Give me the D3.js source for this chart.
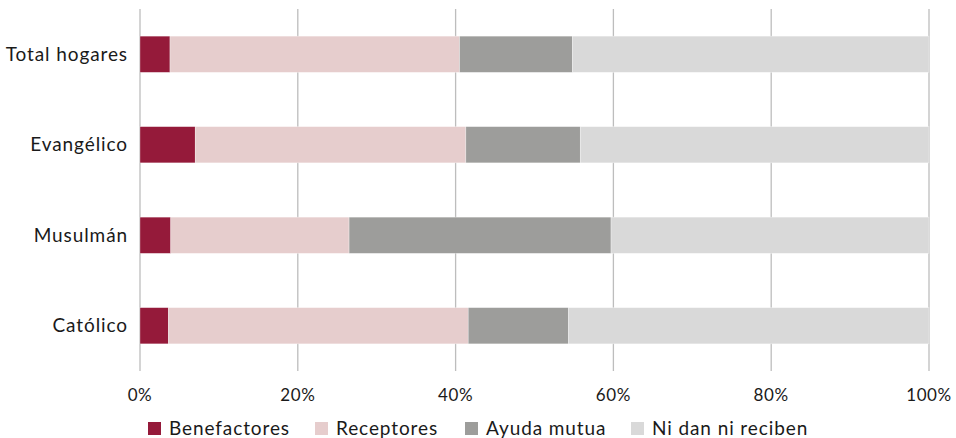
<!DOCTYPE html>
<html><head><meta charset="utf-8">
<script src="https://cdn.jsdelivr.net/npm/d3@7"></script>
<style>body{margin:0;background:#fff}svg{display:block}text{font-family:Lato,"Noto Sans",sans-serif;fill:#1a1a1a}</style>
</head><body><svg id="c" width="956" height="438"></svg>
<script>
const categories = ["Total hogares","Evangélico","Musulmán","Católico"];
const seriesNames = ["Benefactores","Receptores","Ayuda mutua","Ni dan ni reciben"];
const benefactores = [3.8, 7.0, 3.9, 3.6];
const receptores = [36.7, 34.3, 22.6, 38.0];
const ayudaMutua = [14.3, 14.5, 33.2, 12.7];
const niDanNiReciben = [45.2, 44.2, 40.3, 45.7];
const tickValues = [0,20,40,60,80,100];
const colors = ["#951a3a","#e6cdcd","#9d9d9b","#d9d9d9"];

const rows = categories.map((c,i)=>({cat:c,
  "Benefactores":benefactores[i],"Receptores":receptores[i],
  "Ayuda mutua":ayudaMutua[i],"Ni dan ni reciben":niDanNiReciben[i]}));
const stack = d3.stack().keys(seriesNames)(rows);

const svg = d3.select("#c");
const x = d3.scaleLinear().domain([0,100]).range([140,929]);
const y = d3.scaleBand().domain(categories).range([9,371]).paddingInner(0.6).paddingOuter(0.3);

// grid
svg.append("g").selectAll("line").data(tickValues).join("line")
  .attr("x1",d=>x(d)).attr("x2",d=>x(d)).attr("y1",9).attr("y2",371)
  .attr("stroke","#bdbdbd").attr("stroke-width",1.3);

svg.append("g").selectAll("g").data(stack).join("g")
  .attr("fill",(d,i)=>colors[i])
  .selectAll("rect").data(d=>d).join("rect")
  .attr("x",d=>x(d[0])).attr("width",d=>x(d[1])-x(d[0]))
  .attr("y",d=>y(d.data.cat)).attr("height",y.bandwidth())
  .attr("stroke","#fff").attr("stroke-opacity",0.5).attr("stroke-width",0.6);

// x tick labels
svg.append("g").selectAll("text").data(tickValues).join("text")
  .attr("x",d=>x(d)).attr("y",401).attr("text-anchor","middle")
  .attr("font-size",17).attr("letter-spacing",0.6).text(d=>d+"%");

// y labels
svg.append("g").selectAll("text").data(categories).join("text")
  .attr("x",128).attr("y",d=>y(d)+y.bandwidth()/2).attr("dy","0.35em")
  .attr("text-anchor","end").attr("font-size",19).attr("letter-spacing",0.9).text(d=>d);

// legend
const lx = [148,315,465,631];
const lg = svg.append("g").selectAll("g").data(seriesNames).join("g")
  .attr("transform",(d,i)=>`translate(${lx[i]},422)`);
lg.append("rect").attr("width",13).attr("height",13).attr("fill",(d,i)=>colors[i]);
lg.append("text").attr("x",21).attr("y",6.5).attr("dy","0.35em").attr("font-size",19)
  .attr("letter-spacing",0.9).text(d=>d);
</script></body></html>
